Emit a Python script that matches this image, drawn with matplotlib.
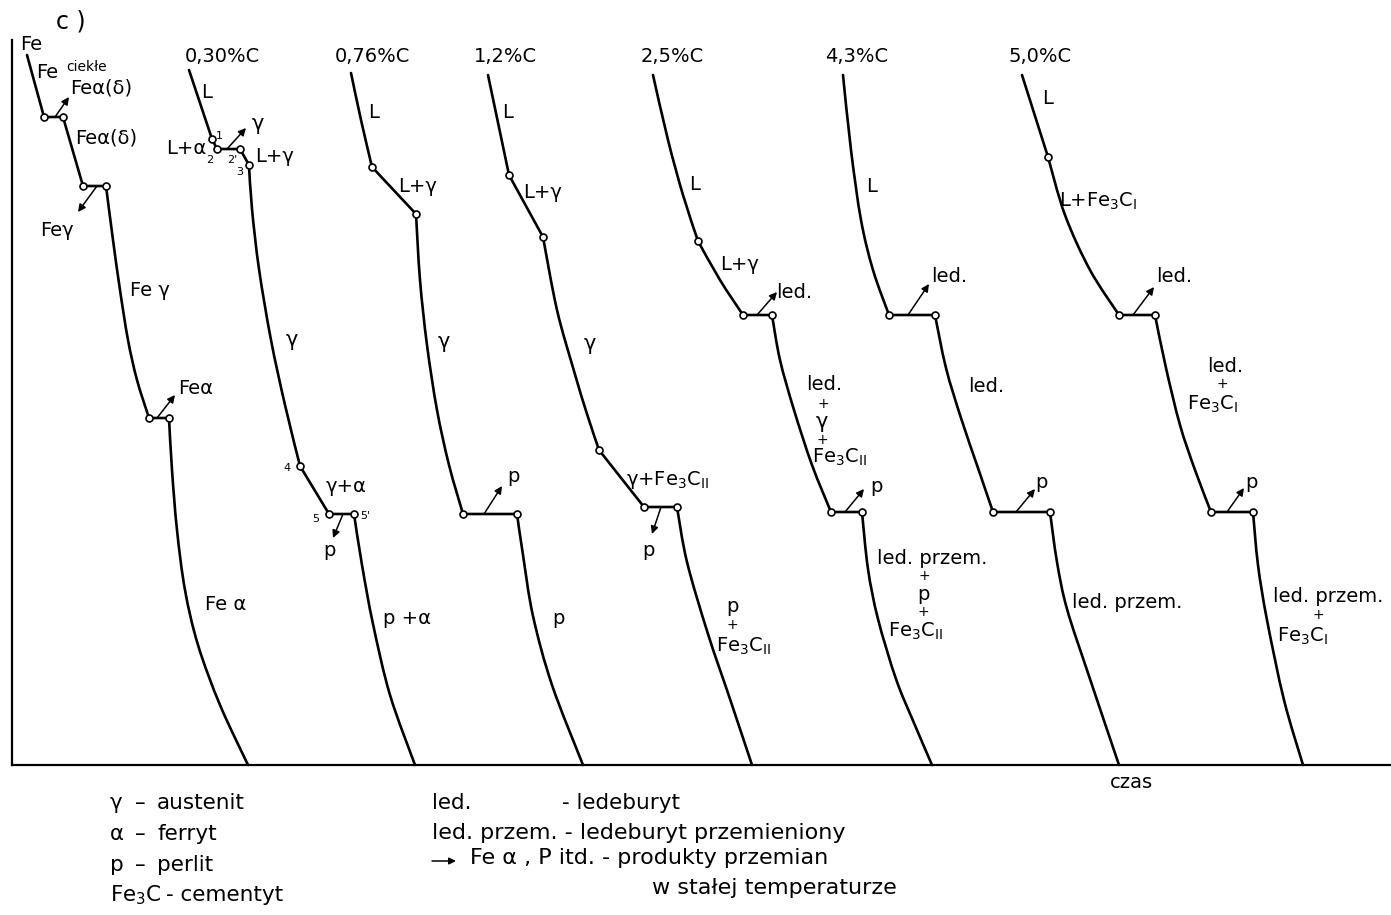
import matplotlib.pyplot as plt
from matplotlib.path import Path
from matplotlib.patches import PathPatch

plt.rcParams['font.family'] = ['DejaVu Sans']
plt.rcParams['mathtext.default'] = 'regular'

# cooling curves: time (x) and temperature (y, drawn downwards)
fe_t = [27, 44, 63, 83, 106, 113, 120, 128, 137, 149, 169, 172, 177, 185, 198, 220, 248]
fe_T = [55, 117, 117, 186, 186, 240, 290, 340, 380, 418, 418, 470, 530, 590, 645, 705, 765]
fe_pts = [1, 2, 3, 4, 9, 10]

c030_t = [189, 212, 217, 240, 249, 252, 259, 271, 285, 300, 329, 354, 362, 373, 390, 415]
c030_T = [70, 139, 149, 149, 165, 209, 269, 340, 405, 466, 514, 514, 565, 624, 695, 765]
c030_pts = [1, 2, 3, 4, 9, 10, 11]

c076_t = [351, 361, 372, 416, 420, 427, 437, 449, 463, 517, 523, 533, 552, 583]
c076_T = [73, 120, 167, 214, 280, 345, 410, 465, 514, 514, 555, 616, 685, 765]
c076_pts = [2, 3, 8, 9]

c12_t = [488, 509, 543, 557, 574, 587, 599, 644, 677, 687, 708, 730, 752]
c12_T = [75, 175, 237, 310, 371, 414, 450, 507, 507, 562, 634, 699, 765]
c12_pts = [1, 2, 6, 7, 8]

c25_t = [653, 668, 683, 698, 720, 743, 772, 780, 794, 812, 831, 862, 868, 878, 896, 914, 932]
c25_T = [75, 140, 195, 241, 280, 315, 315, 360, 410, 465, 512, 512, 569, 619, 679, 723, 765]
c25_pts = [3, 5, 6, 10, 11]

c43_t = [843, 851, 861, 873, 889, 935, 946, 961, 978, 993, 1050, 1057, 1067, 1089, 1119]
c43_T = [75, 150, 220, 270, 315, 315, 368, 418, 468, 512, 512, 562, 609, 676, 765]
c43_pts = [4, 5, 9, 10]

c50_t = [1022, 1048, 1065, 1090, 1119, 1155, 1166, 1180, 1195, 1211, 1253, 1258, 1267, 1284, 1303]
c50_T = [75, 157, 215, 270, 315, 315, 368, 425, 470, 512, 512, 565, 620, 700, 765]
c50_pts = [1, 4, 5, 9, 10]

curves = [(fe_t, fe_T, fe_pts), (c030_t, c030_T, c030_pts), (c076_t, c076_T, c076_pts),
          (c12_t, c12_T, c12_pts), (c25_t, c25_T, c25_pts), (c43_t, c43_T, c43_pts),
          (c50_t, c50_T, c50_pts)]

# arrows for products formed at constant temperature: (tail, head)
arrows = [((55, 117), (69, 97)), ((97, 186), (78, 212)), ((157, 418), (175, 395)),
          ((227, 149), (246, 128)), ((343, 514), (333, 538)),
          ((484, 514), (502, 486)), ((661, 507), (652, 534)),
          ((757, 315), (777, 292)), ((845, 512), (864, 489)),
          ((908, 315), (929, 284)), ((1016, 512), (1035, 489)),
          ((1133, 315), (1154, 287)), ((1227, 512), (1244, 488))]

headers = ['0,30%C', '0,76%C', '1,2%C', '2,5%C', '4,3%C', '5,0%C']
header_x = [222, 372, 505, 672, 857, 1040]

F3C2 = 'Fe$_3$C$_{II}$'
F3C1 = 'Fe$_3$C$_I$'
# phase labels: x, y, text, alignment, size
labels = [
    (20, 45, 'Fe', 'left', 14), (36, 73, 'Fe', 'left', 14), (70, 88, 'Feα(δ)', 'left', 14),
    (75, 138, 'Feα(δ)', 'left', 14), (40, 230, 'Feγ', 'left', 14), (130, 290, 'Fe γ', 'left', 14),
    (178, 388, 'Feα', 'left', 14), (205, 605, 'Fe α', 'left', 14),
    (207, 93, 'L', 'center', 14), (166, 148, 'L+α', 'left', 14), (258, 124, 'γ', 'center', 15),
    (255, 156, 'L+γ', 'left', 14), (292, 340, 'γ', 'center', 15), (326, 487, 'γ+α', 'left', 14),
    (329, 551, 'p', 'center', 14), (383, 618, 'p +α', 'left', 14),
    (374, 112, 'L', 'center', 14), (398, 186, 'L+γ', 'left', 14), (444, 342, 'γ', 'center', 15),
    (513, 477, 'p', 'center', 14), (558, 618, 'p', 'center', 14),
    (508, 112, 'L', 'center', 14), (523, 192, 'L+γ', 'left', 14), (590, 344, 'γ', 'center', 15),
    (626, 480, 'γ+' + F3C2, 'left', 14), (648, 550, 'p', 'center', 14),
    (732, 607, 'p', 'center', 14), (732, 625, '+', 'center', 10), (716, 646, F3C2, 'left', 14),
    (695, 185, 'L', 'center', 14), (720, 265, 'L+γ', 'left', 14), (776, 292, 'led.', 'left', 14),
    (806, 385, 'led.', 'left', 14), (823, 404, '+', 'center', 10), (822, 422, 'γ', 'center', 15),
    (822, 440, '+', 'center', 10), (812, 457, F3C2, 'left', 14), (876, 487, 'p', 'center', 14),
    (877, 558, 'led. przem.', 'left', 14), (924, 576, '+', 'center', 10),
    (923, 594, 'p', 'center', 14), (923, 612, '+', 'center', 10), (888, 631, F3C2, 'left', 14),
    (872, 187, 'L', 'center', 14), (931, 277, 'led.', 'left', 14), (968, 387, 'led.', 'left', 14),
    (1041, 483, 'p', 'center', 14), (1072, 603, 'led. przem.', 'left', 14),
    (1048, 98, 'L', 'center', 14), (1059, 201, 'L+' + F3C1, 'left', 14),
    (1156, 277, 'led.', 'left', 14), (1207, 367, 'led.', 'left', 14),
    (1222, 384, '+', 'center', 10), (1187, 404, F3C1, 'left', 14), (1251, 482, 'p', 'center', 14),
    (1273, 597, 'led. przem.', 'left', 14), (1318, 615, '+', 'center', 10),
    (1277, 636, F3C1, 'left', 14),
]
# small numbers at the 0,30%C break points
numbers = [(219, 136, '1'), (210, 160, '2'), (232, 160, "2'"), (240, 172, '3'),
           (287, 468, '4'), (316, 519, '5'), (365, 516, "5'")]

legend_left = [('γ', 'austenit'), ('α', 'ferryt'), ('p', 'perlit')]


def smooth_path(xs, ys):
    # Catmull-Rom through the read points, handed to matplotlib as cubic Bezier pieces
    pts = list(zip(xs, ys))
    verts = [pts[0]]
    codes = [Path.MOVETO]
    n = len(pts)
    for i in range(n - 1):
        p0 = pts[i - 1] if i > 0 else pts[i]
        p1, p2 = pts[i], pts[i + 1]
        p3 = pts[i + 2] if i + 2 < n else pts[i + 1]
        c1 = (p1[0] + (p2[0] - p0[0]) / 6, p1[1] + (p2[1] - p0[1]) / 6)
        c2 = (p2[0] - (p3[0] - p1[0]) / 6, p2[1] - (p3[1] - p1[1]) / 6)
        verts += [c1, c2, p2]
        codes += [Path.CURVE4] * 3
    return Path(verts, codes)


fig = plt.figure(figsize=(13.91, 9.15), dpi=100)
ax = fig.add_axes([0, 0, 1, 1])
ax.set_xlim(0, 1391)
ax.set_ylim(915, 0)
ax.axis('off')

# axes of the diagram
ax.plot([12, 12], [40, 765], color='black', lw=1.6)
ax.plot([12, 1391], [765, 765], color='black', lw=1.6)

for t, T, pts in curves:
    # break the curve at the marked points so the kinks stay sharp
    cuts = [0] + pts + [len(t) - 1]
    for a, b in zip(cuts[:-1], cuts[1:]):
        if b <= a:
            continue
        patch = PathPatch(smooth_path(t[a:b + 1], T[a:b + 1]), fill=False,
                          edgecolor='black', lw=1.9, capstyle='round', joinstyle='round')
        ax.add_patch(patch)
    ax.plot([t[i] for i in pts], [T[i] for i in pts], 'o', ms=5,
            mfc='white', mec='black', mew=1.2, zorder=3)

for tail, head in arrows:
    ax.annotate('', xy=head, xytext=tail,
                arrowprops=dict(arrowstyle='-|>', color='black', lw=1.1,
                                mutation_scale=11, shrinkA=0, shrinkB=0))

for x, h in zip(header_x, headers):
    ax.text(x, 57, h, ha='center', va='center', fontsize=14)

for x, y, s, ha, size in labels:
    ax.text(x, y, s, ha=ha, va='center', fontsize=size)
ax.text(66, 67, 'ciekłe', ha='left', va='center', fontsize=10)

for x, y, s in numbers:
    ax.text(x, y, s, ha='center', va='center', fontsize=8)

ax.text(56, 22, 'c )', ha='left', va='center', fontsize=17)
ax.text(1110, 783, 'czas', ha='left', va='center', fontsize=14)

# legend
lf = 15.5
for i, (sym, name) in enumerate(legend_left):
    y = 803 + 31 * i
    ax.text(110, y, sym, ha='left', va='center', fontsize=lf)
    ax.text(135, y, '–', ha='left', va='center', fontsize=lf)
    ax.text(157, y, name, ha='left', va='center', fontsize=lf)
ax.text(110, 895, 'Fe$_3$C', ha='left', va='center', fontsize=lf)
ax.text(166, 895, '- cementyt', ha='left', va='center', fontsize=lf)

ax.text(432, 803, 'led.', ha='left', va='center', fontsize=lf)
ax.text(562, 803, '- ledeburyt', ha='left', va='center', fontsize=lf)
ax.text(432, 833, 'led. przem. - ledeburyt przemieniony', ha='left', va='center', fontsize=16)
ax.annotate('', xy=(456, 861), xytext=(432, 861),
            arrowprops=dict(arrowstyle='-|>', color='black', lw=1.1,
                            mutation_scale=10, shrinkA=0, shrinkB=0))
ax.text(470, 858, 'Fe α , P itd. - produkty przemian', ha='left', va='center', fontsize=16)
ax.text(652, 888, 'w stałej temperaturze', ha='left', va='center', fontsize=16)

fig.savefig('out.png', dpi=100)
